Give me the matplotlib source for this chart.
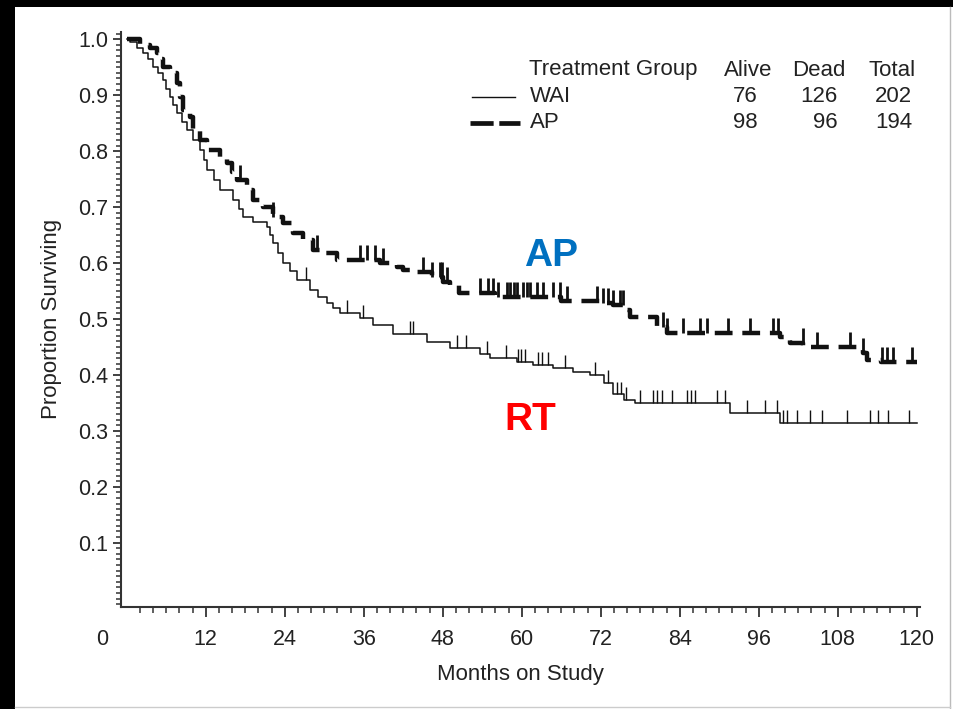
import matplotlib
matplotlib.use("Agg")
import matplotlib.pyplot as plt
import matplotlib.transforms as mtransforms
import numpy as np
from matplotlib.patches import Rectangle
from matplotlib.lines import Line2D
from matplotlib.ticker import MultipleLocator

plt.rcParams['font.family'] = ['Liberation Sans', 'DejaVu Sans']

# Kaplan-Meier steps: month of each drop and the level after it
wai_time = [0.5, 1.5, 2.5, 3.2, 4.0, 4.8, 5.5, 6.0, 6.6, 7.1, 7.6, 8.4, 9.2, 10.1,
            11.1, 11.7, 12.2, 13.2, 14.2, 16.1, 17.0, 17.7, 19.2, 21.3, 21.8, 22.2,
            23.0, 23.8, 24.8, 25.9, 27.8, 29.0, 30.4, 31.4, 32.4, 35.4, 37.4, 40.5,
            45.6, 49.1, 53.7, 55.2, 59.3, 61.7, 64.8, 67.8, 70.4, 72.5, 73.9, 75.5,
            77.2, 91.6, 99.2]
wai_surv = [0.995, 0.985, 0.975, 0.965, 0.950, 0.940, 0.927, 0.912, 0.897, 0.882,
            0.868, 0.853, 0.838, 0.820, 0.802, 0.785, 0.766, 0.748, 0.730, 0.712,
            0.697, 0.682, 0.673, 0.664, 0.650, 0.636, 0.618, 0.600, 0.585, 0.570,
            0.552, 0.540, 0.528, 0.519, 0.511, 0.502, 0.489, 0.473, 0.459, 0.448,
            0.437, 0.430, 0.423, 0.418, 0.412, 0.405, 0.400, 0.385, 0.365, 0.355,
            0.350, 0.332, 0.314]
wai_censor = [27.3, 33.4, 35.9, 43.0, 43.5, 50.1, 51.5, 54.7, 57.6, 59.5, 59.9, 60.5,
              62.5, 63.1, 64.0, 66.6, 71.1, 73.1, 74.5, 75.1, 75.8, 78.0, 79.9, 80.5,
              81.3, 82.8, 85.1, 85.7, 86.3, 89.7, 90.9, 94.2, 96.9, 98.8, 99.7, 100.3,
              101.8, 103.8, 105.6, 109.4, 112.9, 114.1, 115.6, 118.9]

ap_time = [2.0, 3.5, 4.6, 5.0, 5.5, 6.6, 7.6, 8.1, 8.6, 9.6, 10.1, 11.1, 12.2, 14.2,
           15.2, 16.0, 16.8, 18.3, 19.2, 20.7, 22.2, 23.8, 25.3, 26.8, 28.3, 29.4,
           31.9, 38.5, 41.0, 42.0, 44.0, 46.4, 48.0, 49.1, 50.5, 56.0, 66.0, 72.1,
           73.9, 76.0, 76.5, 80.5, 82.1, 99.2, 100.8, 102.8, 111.9, 112.5, 114.5]
ap_surv = [0.990, 0.984, 0.975, 0.965, 0.950, 0.940, 0.922, 0.897, 0.873, 0.861,
           0.838, 0.820, 0.802, 0.790, 0.779, 0.763, 0.748, 0.730, 0.713, 0.700,
           0.682, 0.672, 0.654, 0.641, 0.623, 0.618, 0.605, 0.600, 0.593, 0.588,
           0.584, 0.575, 0.566, 0.561, 0.546, 0.539, 0.532, 0.528, 0.525, 0.516,
           0.503, 0.486, 0.475, 0.468, 0.457, 0.450, 0.439, 0.427, 0.423]
ap_censor = [17.2, 22.2, 28.9, 35.4, 36.5, 37.7, 38.9, 45.0, 46.4, 47.6, 47.9, 48.7,
             53.7, 54.9, 55.6, 56.4, 57.8, 58.2, 58.8, 59.3, 60.2, 60.8, 61.3, 62.3,
             63.2, 64.8, 65.8, 66.9, 71.4, 72.4, 73.1, 73.9, 74.9, 75.4, 81.5, 82.1,
             84.5, 87.1, 88.2, 91.3, 94.7, 98.2, 98.9, 102.7, 104.9, 109.9, 111.9,
             114.7, 115.5, 116.4, 119.3]

groups = ["WAI", "AP"]
alive = [76, 98]
dead = [126, 96]
total = [202, 194]

x_ticks = list(range(0, 121, 12))
y_ticks = [0.1, 0.2, 0.3, 0.4, 0.5, 0.6, 0.7, 0.8, 0.9, 1.0]
end_month = 120


def level_at(times, surv, t):
    i = np.searchsorted(times, t, side='right') - 1
    return np.where(i >= 0, np.asarray(surv)[np.clip(i, 0, None)], 1.0)


W, H = 954, 709
fig = plt.figure(figsize=(W / 100, H / 100), dpi=100, facecolor='black')
fig.patches.append(Rectangle((15 / W, 0), 1, 1 - 7 / H, transform=fig.transFigure,
                             facecolor='white', edgecolor='none', zorder=-10))
fig.lines.append(Line2D([950 / W, 950 / W], [0, 1 - 7 / H], transform=fig.transFigure,
                        color='#bbbbbb', lw=1))
fig.lines.append(Line2D([15 / W, 950 / W], [2 / H, 2 / H], transform=fig.transFigure,
                        color='#cccccc', lw=1))

ax = fig.add_axes([121 / W, 1 - 607 / H, (920 - 121) / W, (607 - 31.7) / H])
ax.set_facecolor('white')

ink = '#111111'

# WAI: thin solid
tx = np.r_[0, wai_time, end_month]
sy = np.r_[1.0, wai_surv, wai_surv[-1]]
ax.step(tx, sy, where='post', color=ink, lw=1.1)
lv = level_at(wai_time, wai_surv, wai_censor)
ax.vlines(wai_censor, lv, lv + 0.023, color=ink, lw=1.0)

# AP: thick dashed
tx = np.r_[0, ap_time, end_month]
sy = np.r_[1.0, ap_surv, ap_surv[-1]]
ax.step(tx, sy, where='post', color=ink, lw=3.2, dashes=(4, 2.2))
lv = level_at(ap_time, ap_surv, ap_censor)
ax.vlines(ap_censor, lv, lv + 0.027, color=ink, lw=2.0)

ax.set_xlim(-0.87, 120.5)
ax.set_ylim(-0.015, 1.0136)

for s in ['top', 'right']:
    ax.spines[s].set_visible(False)
for s in ['left', 'bottom']:
    ax.spines[s].set_color('#333333')
    ax.spines[s].set_linewidth(1.5)

ax.set_xticks(x_ticks)
ax.set_xticklabels([str(v) for v in x_ticks])
ax.xaxis.set_minor_locator(MultipleLocator(2))
ax.set_yticks(y_ticks)
ax.set_yticklabels([f"{v:.1f}" for v in y_ticks])
ax.yaxis.set_minor_locator(MultipleLocator(0.01))

ax.tick_params(axis='x', which='major', length=7, width=1.3, color='#333333',
               labelsize=15.5, pad=9, labelcolor='#222222')
ax.tick_params(axis='x', which='minor', length=4, width=1.1, color='#333333')
ax.tick_params(axis='y', which='major', length=6, width=1.3, color='#333333',
               labelsize=15.5, pad=3, labelcolor='#222222')
ax.tick_params(axis='y', which='minor', length=3.5, width=1.1, color='#333333')

# the origin tick: no mark, label set off to the left
first = ax.xaxis.get_major_ticks()[0]
first.tick1line.set_visible(False)
shift = mtransforms.ScaledTranslation(-0.245, 0, fig.dpi_scale_trans)
first.label1.set_transform(first.label1.get_transform() + shift)
ax.xaxis.get_minor_ticks()[0].tick1line.set_visible(False)

ax.set_xlabel("Months on Study", fontsize=16, color='#222222', labelpad=10)
ax.set_ylabel("Proportion Surviving", fontsize=16, color='#222222', labelpad=12)

# group labels
ax.text(64.4, 0.612, "AP", color='#0070C0', fontsize=28, fontweight='bold',
        ha='center', va='center')
ax.text(61.3, 0.319, "RT", color='#FF0000', fontsize=28, fontweight='bold',
        ha='center', va='center')


# legend table
def fx(px):
    return px / W


def fy(py):
    return 1 - py / H


tc = '#222222'
fs = 16
fig.text(fx(529), fy(70), "Treatment Group", fontsize=fs, color=tc, va='center')
fig.text(fx(772), fy(70), "Alive", fontsize=fs, color=tc, va='center', ha='right')
fig.text(fx(846), fy(70), "Dead", fontsize=fs, color=tc, va='center', ha='right')
fig.text(fx(916), fy(70), "Total", fontsize=fs, color=tc, va='center', ha='right')
row_y = [97, 122]
for g, a, d, t, ry in zip(groups, alive, dead, total, row_y):
    fig.text(fx(530), fy(ry), g, fontsize=fs, color=tc, va='center')
    fig.text(fx(758), fy(ry), str(a), fontsize=fs, color=tc, va='center', ha='right')
    fig.text(fx(838), fy(ry), str(d), fontsize=fs, color=tc, va='center', ha='right')
    fig.text(fx(912), fy(ry), str(t), fontsize=fs, color=tc, va='center', ha='right')

fig.lines.append(Line2D([fx(472), fx(515)], [fy(97), fy(97)], transform=fig.transFigure,
                        color=ink, lw=1.0))
fig.lines.append(Line2D([fx(470), fx(520)], [fy(123), fy(123)], transform=fig.transFigure,
                        color=ink, lw=3.4, dashes=(4.9, 1.2), solid_capstyle='butt',
                        dash_capstyle='butt'))

fig.savefig("out.png", dpi=100, facecolor=fig.get_facecolor())
